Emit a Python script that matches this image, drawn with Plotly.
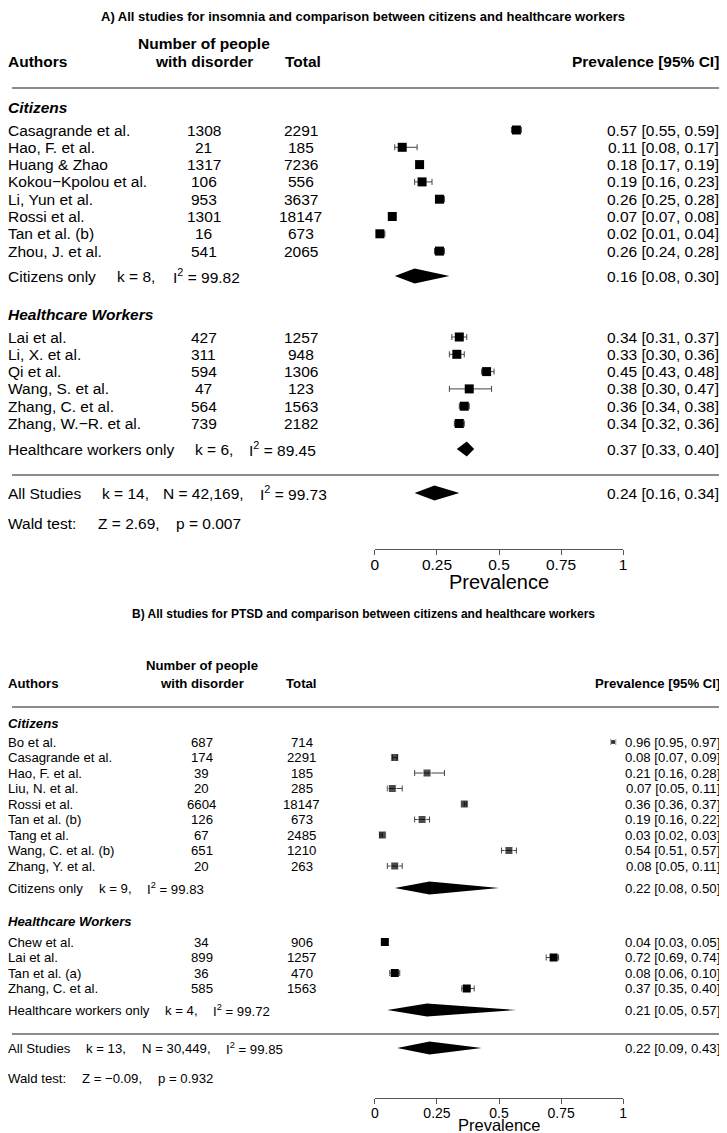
import plotly.graph_objects as go

# ---------------- DATA ----------------
# Panel A: insomnia
a_cit_authors = ["Casagrande et al.", "Hao, F. et al.", "Huang & Zhao", "Kokou\u2212Kpolou et al.",
                 "Li, Yun et al.", "Rossi et al.", "Tan et al. (b)", "Zhou, J. et al."]
a_cit_n = [1308, 21, 1317, 106, 953, 1301, 16, 541]
a_cit_total = [2291, 185, 7236, 556, 3637, 18147, 673, 2065]
a_cit_est = [0.57, 0.11, 0.18, 0.19, 0.26, 0.07, 0.02, 0.26]
a_cit_lo = [0.55, 0.08, 0.17, 0.16, 0.25, 0.07, 0.01, 0.24]
a_cit_hi = [0.59, 0.17, 0.19, 0.23, 0.28, 0.08, 0.04, 0.28]

a_hcw_authors = ["Lai et al.", "Li, X. et al.", "Qi et al.", "Wang, S. et al.",
                 "Zhang, C. et al.", "Zhang, W.\u2212R. et al."]
a_hcw_n = [427, 311, 594, 47, 564, 739]
a_hcw_total = [1257, 948, 1306, 123, 1563, 2182]
a_hcw_est = [0.34, 0.33, 0.45, 0.38, 0.36, 0.34]
a_hcw_lo = [0.31, 0.30, 0.43, 0.30, 0.34, 0.32]
a_hcw_hi = [0.37, 0.36, 0.48, 0.47, 0.38, 0.36]

a_summary_labels = ["Citizens only", "Healthcare workers only", "All Studies"]
a_summary_k = [8, 6, 14]
a_summary_i2 = ["99.82", "89.45", "99.73"]
a_summary_est = [0.16, 0.37, 0.24]
a_summary_lo = [0.08, 0.33, 0.16]
a_summary_hi = [0.30, 0.40, 0.34]
a_total_n = "42,169"
a_wald = ("2.69", "0.007")

# Panel B: PTSD
b_cit_authors = ["Bo et al.", "Casagrande et al.", "Hao, F. et al.", "Liu, N. et al.", "Rossi et al.",
                 "Tan et al. (b)", "Tang et al.", "Wang, C. et al. (b)", "Zhang, Y. et al."]
b_cit_n = [687, 174, 39, 20, 6604, 126, 67, 651, 20]
b_cit_total = [714, 2291, 185, 285, 18147, 673, 2485, 1210, 263]
b_cit_est = [0.96, 0.08, 0.21, 0.07, 0.36, 0.19, 0.03, 0.54, 0.08]
b_cit_lo = [0.95, 0.07, 0.16, 0.05, 0.36, 0.16, 0.02, 0.51, 0.05]
b_cit_hi = [0.97, 0.09, 0.28, 0.11, 0.37, 0.22, 0.03, 0.57, 0.11]

b_hcw_authors = ["Chew et al.", "Lai et al.", "Tan et al. (a)", "Zhang, C. et al."]
b_hcw_n = [34, 899, 36, 585]
b_hcw_total = [906, 1257, 470, 1563]
b_hcw_est = [0.04, 0.72, 0.08, 0.37]
b_hcw_lo = [0.03, 0.69, 0.06, 0.35]
b_hcw_hi = [0.05, 0.74, 0.10, 0.40]

b_summary_labels = ["Citizens only", "Healthcare workers only", "All Studies"]
b_summary_k = [9, 4, 13]
b_summary_i2 = ["99.83", "99.72", "99.85"]
b_summary_est = [0.22, 0.21, 0.22]
b_summary_lo = [0.08, 0.05, 0.09]
b_summary_hi = [0.50, 0.57, 0.43]
b_total_n = "30,449"
b_wald = ("\u22120.09", "0.932")

tick_vals = [0, 0.25, 0.5, 0.75, 1]
tick_text = ["0", "0.25", "0.5", "0.75", "1"]

# ---------------- LAYOUT CONSTANTS ----------------
PAGE_W, PAGE_H = 727, 1133
OFF = 8                     # default body margin of the html page
PAD = 6                     # inner padding plotly adds round annotation text
W, H = PAGE_W - OFF, PAGE_H - OFF
FONT = "Liberation Sans, Arial, sans-serif"
X0_PX, X1_PX = 375, 626

fig = go.Figure()
ann = []
shapes = []


def px(x):
    return (x - OFF) / W


def text(x, y, s, size, anchor="left", bold=False, italic=False):
    if bold:
        s = "<b>" + s + "</b>"
    if italic:
        s = "<i>" + s + "</i>"
    if anchor == "left":
        x -= PAD
    elif anchor == "right":
        x += PAD
    ann.append(dict(x=px(x), y=y, xref="paper", yref="y", text=s, showarrow=False,
                    xanchor=anchor, yanchor="middle",
                    font=dict(family=FONT, size=size, color="black")))


def ci(e, l, h):
    return f"{e:.2f} [{l:.2f}, {h:.2f}]"


def hline(y):
    shapes.append(dict(type="line", xref="paper", yref="y", x0=px(OFF), x1=px(725), y0=y, y1=y,
                       line=dict(color="#666666", width=1.5)))


def studies(axis, ys, authors, n, tot, est, lo, hi, fs, cols, msize, sizes=None):
    for i, y in enumerate(ys):
        text(cols[0], y, authors[i], fs)
        text(cols[1], y, str(n[i]), fs, "center")
        text(cols[2], y, str(tot[i]), fs, "center")
        text(cols[3], y, ci(est[i], lo[i], hi[i]), fs, "right")
    fig.add_trace(go.Scatter(
        x=est, y=ys, xaxis=axis, yaxis="y", mode="markers", cliponaxis=False,
        marker=dict(symbol="square", size=sizes if sizes else msize, color="black"),
        error_x=dict(type="data", symmetric=False,
                     array=[h - e for h, e in zip(hi, est)],
                     arrayminus=[e - l for e, l in zip(est, lo)],
                     color="#444444", thickness=1, width=3),
        showlegend=False, hoverinfo="skip"))


def diamond(axis, y, e, l, h, half):
    fig.add_trace(go.Scatter(
        x=[l, e, h, e, l], y=[y, y - half, y, y + half, y], xaxis=axis, yaxis="y",
        mode="lines", fill="toself", fillcolor="black", line=dict(width=0, color="black"),
        cliponaxis=False, showlegend=False, hoverinfo="skip"))


# ---------------- PANEL A ----------------
fsA = 15.5
colsA = [8, 202, 300, 719]
text(363, 16, "A) All studies for insomnia and comparison between citizens and healthcare workers", 13,
     "center", bold=True)
text(202, 43, "Number of people", fsA, "center", bold=True)
text(8, 61, "Authors", fsA, bold=True)
text(202, 61, "with disorder", fsA, "center", bold=True)
text(302, 61, "Total", fsA, "center", bold=True)
text(719, 61, "Prevalence [95% CI]", fsA, "right", bold=True)
hline(88)

rowA = 17.3
text(8, 107, "Citizens", 15.5, bold=True, italic=True)
ys = [130 + i * rowA for i in range(len(a_cit_authors))]
studies("x", ys, a_cit_authors, a_cit_n, a_cit_total, a_cit_est, a_cit_lo, a_cit_hi, fsA, colsA, 9)

text(8, 314, "Healthcare Workers", 15.5, bold=True, italic=True)
ys = [337 + i * rowA for i in range(len(a_hcw_authors))]
studies("x", ys, a_hcw_authors, a_hcw_n, a_hcw_total, a_hcw_est, a_hcw_lo, a_hcw_hi, fsA, colsA, 9)

sumA_y = [276, 449, 493]
kxA = [118, 197, 103]
ixA = [175, 252, 263]
for j in range(3):
    y = sumA_y[j]
    text(8, y, a_summary_labels[j], fsA)
    text(kxA[j], y, f"k = {a_summary_k[j]},", fsA)
    if j == 2:
        text(165, y, f"N = {a_total_n},", fsA)
    text(ixA[j], y, f"I<sup>2</sup> = {a_summary_i2[j]}", fsA)
    text(719, y, ci(a_summary_est[j], a_summary_lo[j], a_summary_hi[j]), fsA, "right")
    diamond("x", y, a_summary_est[j], a_summary_lo[j], a_summary_hi[j], 7.5)
hline(475)
text(8, 523, "Wald test:", fsA)
text(99, 523, f"Z = {a_wald[0]},", fsA)
text(178, 523, f"p = {a_wald[1]}", fsA)
text(500, 582, "Prevalence", 20, "center")

# ---------------- PANEL B ----------------
fsB = 13.2
colsB = [8, 200, 301, 720]
text(363, 614, "B) All studies for PTSD and comparison between citizens and healthcare workers", 12,
     "center", bold=True)
text(200, 665, "Number of people", fsB, "center", bold=True)
text(8, 683, "Authors", fsB, bold=True)
text(200, 683, "with disorder", fsB, "center", bold=True)
text(301, 683, "Total", fsB, "center", bold=True)
text(720, 683, "Prevalence [95% CI]", fsB, "right", bold=True)
hline(707)

rowB = 15.5
text(8, 723, "Citizens", 13.2, bold=True, italic=True)
ys = [742 + i * rowB for i in range(len(b_cit_authors))]
sizesB = [5] + [8] * (len(b_cit_authors) - 1)
studies("x2", ys, b_cit_authors, b_cit_n, b_cit_total, b_cit_est, b_cit_lo, b_cit_hi, fsB, colsB, 8, sizesB)

text(8, 921, "Healthcare Workers", 13.2, bold=True, italic=True)
ys = [942 + i * rowB for i in range(len(b_hcw_authors))]
studies("x2", ys, b_hcw_authors, b_hcw_n, b_hcw_total, b_hcw_est, b_hcw_lo, b_hcw_hi, fsB, colsB, 8)

sumB_y = [888, 1010, 1048]
kxB = [100, 167, 87]
ixB = [148, 215, 228]
for j in range(3):
    y = sumB_y[j]
    text(8, y, b_summary_labels[j], fsB)
    text(kxB[j], y, f"k = {b_summary_k[j]},", fsB)
    if j == 2:
        text(143, y, f"N = {b_total_n},", fsB)
    text(ixB[j], y, f"I<sup>2</sup> = {b_summary_i2[j]}", fsB)
    text(720, y, ci(b_summary_est[j], b_summary_lo[j], b_summary_hi[j]), fsB, "right")
    diamond("x2", y, b_summary_est[j], b_summary_lo[j], b_summary_hi[j], 6.5)
hline(1034)
text(8, 1078, "Wald test:", fsB)
text(83, 1078, f"Z = {b_wald[0]},", fsB)
text(160, 1078, f"p = {b_wald[1]}", fsB)
text(501, 1125, "Prevalence", 16.5, "center")

# ---------------- AXES ----------------
dom = [px(X0_PX), px(X1_PX)]
axis_common = dict(domain=dom, range=[0, 1], tickvals=tick_vals, ticktext=tick_text,
                   showline=True, linecolor="#555555", linewidth=1, ticks="outside",
                   tickcolor="#555555", ticklen=5, showgrid=False, zeroline=False,
                   anchor="free", side="bottom", fixedrange=True)
fig.update_layout(
    width=W, height=H, margin=dict(l=0, r=0, t=0, b=0),
    paper_bgcolor="white", plot_bgcolor="rgba(0,0,0,0)",
    xaxis=dict(**axis_common, position=1 - (549 - OFF) / H, ticklabelstandoff=-4,
               tickfont=dict(family=FONT, size=15.5, color="black")),
    xaxis2=dict(**axis_common, position=1 - (1098 - OFF) / H, overlaying="x", ticklabelstandoff=-3,
                tickfont=dict(family=FONT, size=14, color="black")),
    yaxis=dict(domain=[0, 1], range=[PAGE_H, OFF], visible=False, fixedrange=True),
    annotations=ann, shapes=shapes, showlegend=False,
)

fig.write_html("out.html")
